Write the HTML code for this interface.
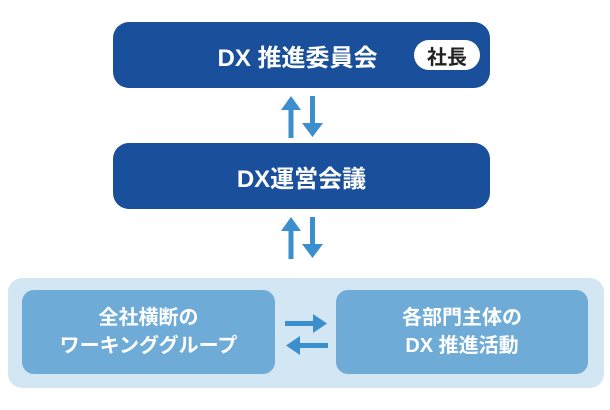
<!DOCTYPE html>
<html><head><meta charset="utf-8"><style>
body{margin:0;width:610px;height:410px;background:#fff;position:relative;overflow:hidden;font-family:"Liberation Sans","Noto Sans CJK JP",sans-serif;}
.b{position:absolute;display:flex;align-items:center;justify-content:center;color:#fff;font-weight:bold;text-align:center;}
.dk{background:#1a509b;border-radius:16px;font-size:24px;}
.lt{background:#6eabd7;border-radius:12px;font-size:20px;line-height:28px;}
</style></head><body>
<div class="b dk" style="left:113px;top:22px;width:377px;height:66px;"><span style="margin-left:-8px">DX 推進委員会</span></div>
<div style="position:absolute;left:414px;top:40px;width:66px;height:30px;background:#fff;border-radius:15px;color:#222;font-weight:bold;font-size:20px;display:flex;align-items:center;justify-content:center;">社長</div>
<div class="b dk" style="left:113px;top:143px;width:377px;height:66px;">DX運営会議</div>
<div style="position:absolute;left:8px;top:278px;width:596px;height:110px;background:#d3e6f4;border-radius:14px;"></div>
<div class="b lt" style="left:22px;top:290px;width:253px;height:84px;">全社横断の<br>ワーキンググループ</div>
<div class="b lt" style="left:336px;top:290px;width:252px;height:84px;">各部門主体の<br>DX 推進活動</div>
<svg width="610" height="410" style="position:absolute;left:0;top:0">
<g fill="#3c8fcd">
<rect x="288.5" y="108" width="5" height="30"/><polygon points="281,110 291,96 301,110"/>
<rect x="310" y="96" width="5" height="30"/><polygon points="302,123 312.5,137 323,123"/>
<rect x="288.5" y="229" width="5" height="30"/><polygon points="281,231 291,217 301,231"/>
<rect x="310" y="217" width="5" height="30"/><polygon points="302,244 312.5,258 323,244"/>
<rect x="285" y="321" width="30" height="5"/><polygon points="313,314 327,323.5 313,333"/>
<rect x="298" y="343" width="30" height="5"/><polygon points="300,336 286,345.5 300,355"/>
</g></svg>
</body></html>
